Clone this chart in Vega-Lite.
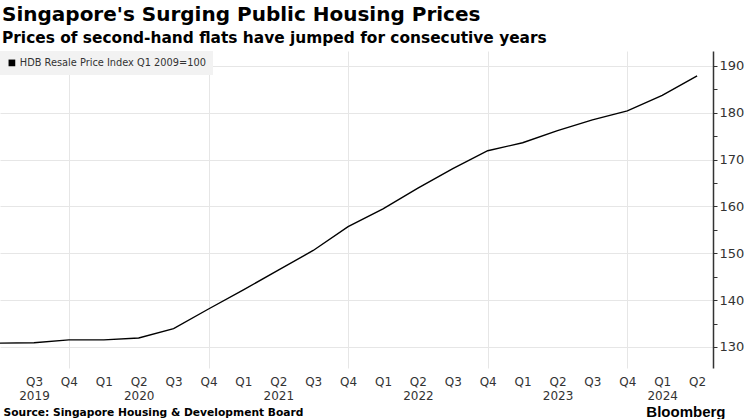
{
  "$schema": "https://vega.github.io/schema/vega-lite/v6.json",
  "autosize": {"type": "none"},
  "width": 713,
  "height": 317,
  "padding": {"left": 0, "top": 51, "right": 31, "bottom": 51},
  "background": "white",
  "title": {
    "text": "Singapore's Surging Public Housing Prices",
    "subtitle": "Prices of second-hand flats have jumped for consecutive years",
    "anchor": "start",
    "frame": "group",
    "offset": 5,
    "font": "DejaVu Sans",
    "fontSize": 20,
    "fontWeight": "bold",
    "color": "#000000",
    "subtitleFont": "DejaVu Sans",
    "subtitleFontSize": 15.4,
    "subtitleFontWeight": "bold",
    "subtitleColor": "#000000",
    "subtitlePadding": 6,
    "dx": 2
  },
  "data": {
    "values": [
      {"t": 0, "quarter": "Q2 2019", "series": "HDB Resale Price Index Q1 2009=100", "value": 130.8},
      {"t": 1, "quarter": "Q3 2019", "series": "HDB Resale Price Index Q1 2009=100", "value": 130.9},
      {"t": 2, "quarter": "Q4 2019", "series": "HDB Resale Price Index Q1 2009=100", "value": 131.5},
      {"t": 3, "quarter": "Q1 2020", "series": "HDB Resale Price Index Q1 2009=100", "value": 131.5},
      {"t": 4, "quarter": "Q2 2020", "series": "HDB Resale Price Index Q1 2009=100", "value": 131.9},
      {"t": 5, "quarter": "Q3 2020", "series": "HDB Resale Price Index Q1 2009=100", "value": 133.9},
      {"t": 6, "quarter": "Q4 2020", "series": "HDB Resale Price Index Q1 2009=100", "value": 138.1},
      {"t": 7, "quarter": "Q1 2021", "series": "HDB Resale Price Index Q1 2009=100", "value": 142.2},
      {"t": 8, "quarter": "Q2 2021", "series": "HDB Resale Price Index Q1 2009=100", "value": 146.4},
      {"t": 9, "quarter": "Q3 2021", "series": "HDB Resale Price Index Q1 2009=100", "value": 150.6},
      {"t": 10, "quarter": "Q4 2021", "series": "HDB Resale Price Index Q1 2009=100", "value": 155.7},
      {"t": 11, "quarter": "Q1 2022", "series": "HDB Resale Price Index Q1 2009=100", "value": 159.5},
      {"t": 12, "quarter": "Q2 2022", "series": "HDB Resale Price Index Q1 2009=100", "value": 163.9},
      {"t": 13, "quarter": "Q3 2022", "series": "HDB Resale Price Index Q1 2009=100", "value": 168.1},
      {"t": 14, "quarter": "Q4 2022", "series": "HDB Resale Price Index Q1 2009=100", "value": 171.9},
      {"t": 15, "quarter": "Q1 2023", "series": "HDB Resale Price Index Q1 2009=100", "value": 173.6},
      {"t": 16, "quarter": "Q2 2023", "series": "HDB Resale Price Index Q1 2009=100", "value": 176.2},
      {"t": 17, "quarter": "Q3 2023", "series": "HDB Resale Price Index Q1 2009=100", "value": 178.5},
      {"t": 18, "quarter": "Q4 2023", "series": "HDB Resale Price Index Q1 2009=100", "value": 180.4},
      {"t": 19, "quarter": "Q1 2024", "series": "HDB Resale Price Index Q1 2009=100", "value": 183.7},
      {"t": 20, "quarter": "Q2 2024", "series": "HDB Resale Price Index Q1 2009=100", "value": 187.9}
    ]
  },
  "mark": {"type": "line", "clip": true, "strokeWidth": 1.4, "color": "#000000"},
  "encoding": {
    "x": {
      "field": "t",
      "type": "quantitative",
      "scale": {"domain": [0.026, 20.455], "nice": false, "zero": false},
      "axis": {
        "title": "Source: Singapore Housing & Development Board",
        "titleFont": "DejaVu Sans",
        "titleFontSize": 10.7,
        "titleFontWeight": "bold",
        "titleColor": "#000000",
        "titleAlign": "left",
        "titleAnchor": "start",
        "titleBaseline": "alphabetic",
        "titleX": 3,
        "titleY": 47,
        "values": [1, 2, 3, 4, 5, 6, 7, 8, 9, 10, 11, 12, 13, 14, 15, 16, 17, 18, 19, 20],
        "labelExpr": "['Q' + (((datum.value + 1) % 4) + 1), (datum.value == 1 || datum.value == 19 || ((datum.value + 1) % 4 == 1 && datum.value < 19)) ? '' + (2019 + floor((datum.value + 1) / 4)) : '']",
        "labelFont": "DejaVu Sans",
        "labelFontSize": 12,
        "labelColor": "#333333",
        "labelLineHeight": 14,
        "labelPadding": 8,
        "labelFlush": false,
        "labelOverlap": false,
        "ticks": false,
        "domain": false,
        "grid": true,
        "gridColor": "#e6e6e6",
        "gridWidth": 1,
        "gridOpacity": {"condition": {"test": "(datum.value - 2) % 4 == 0", "value": 1}, "value": 0}
      }
    },
    "y": {
      "field": "value",
      "type": "quantitative",
      "scale": {"domain": [125.5, 193.2], "nice": false, "zero": false},
      "axis": {
        "orient": "right",
        "title": "Bloomberg",
        "titleFont": "Liberation Sans",
        "titleFontSize": 15,
        "titleFontWeight": "bold",
        "titleColor": "#000000",
        "titleAngle": 0,
        "titleAlign": "right",
        "titleBaseline": "alphabetic",
        "titleX": 12,
        "titleY": 365,
        "values": [130, 135, 140, 145, 150, 155, 160, 165, 170, 175, 180, 185, 190],
        "labelExpr": "datum.value % 10 == 0 ? datum.label : ''",
        "labelFont": "DejaVu Sans",
        "labelFontSize": 13,
        "labelColor": "#333333",
        "labelPadding": 2,
        "tickSize": 4,
        "tickColor": "#333333",
        "domain": true,
        "domainColor": "#333333",
        "domainWidth": 1.5,
        "grid": true,
        "gridColor": "#e6e6e6",
        "gridWidth": 1,
        "gridOpacity": {"condition": {"test": "datum.value % 10 == 0", "value": 1}, "value": 0}
      }
    },
    "color": {
      "field": "series",
      "type": "nominal",
      "scale": {"range": ["#000000"]},
      "legend": {
        "title": null,
        "orient": "top-left",
        "offset": 0,
        "padding": 7,
        "fillColor": "#f2f2f2",
        "symbolType": "square",
        "symbolSize": 45,
        "symbolFillColor": "#000000",
        "symbolStrokeWidth": 0,
        "labelFont": "DejaVu Sans",
        "labelFontSize": 9.8,
        "labelColor": "#333333",
        "labelOffset": 3,
        "labelLimit": 400
      }
    }
  },
  "config": {"view": {"stroke": null}}
}
